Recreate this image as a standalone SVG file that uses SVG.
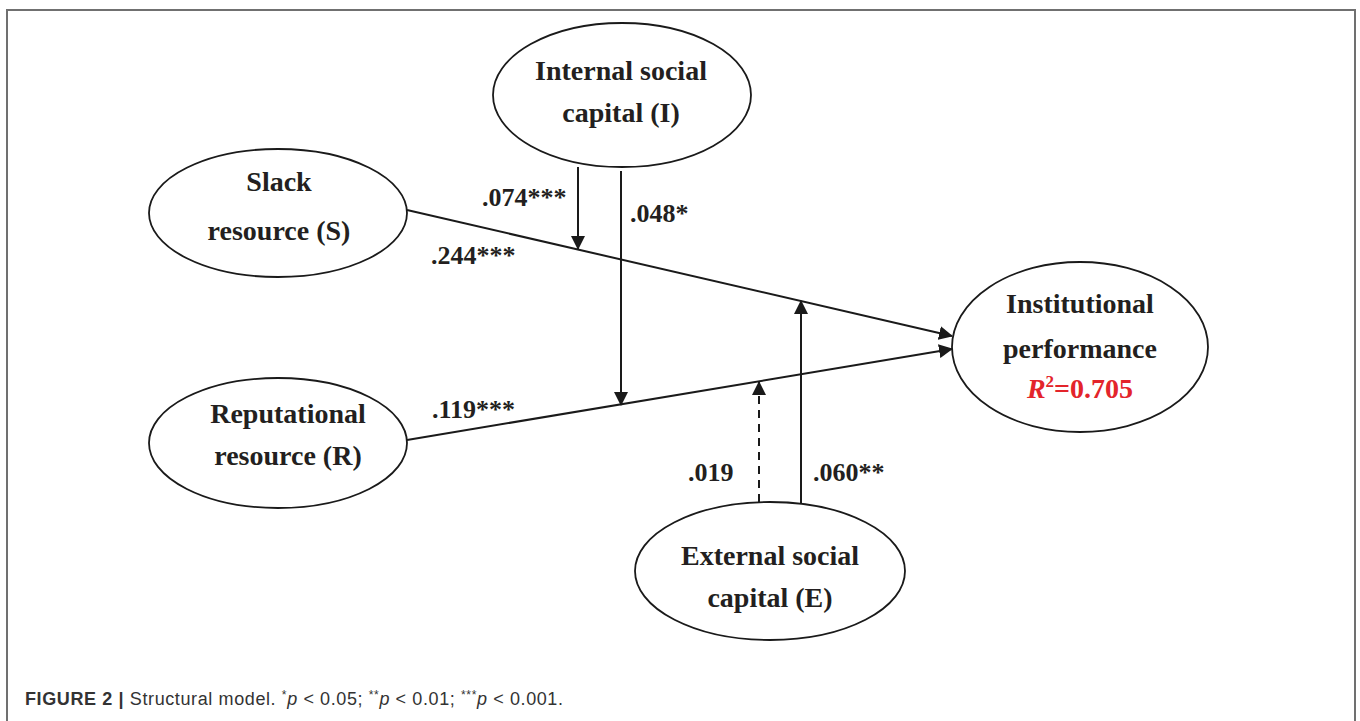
<svg xmlns="http://www.w3.org/2000/svg" width="1360" height="721" viewBox="0 0 1360 721">
<defs>
<style>
.node{fill:#fff;stroke:#1a1a1a;stroke-width:1.8}
.nt{font-family:"Liberation Serif","Times New Roman",serif;font-weight:bold;font-size:28px;fill:#231f20;text-anchor:middle}
.lbl{font-family:"Liberation Serif","Times New Roman",serif;font-weight:bold;font-size:26px;fill:#231f20}
.edge{stroke:#1a1a1a;stroke-width:2;fill:none}
.dash{stroke-dasharray:8,6}
.cap{font-family:"Liberation Sans",Arial,sans-serif;font-size:18px;fill:#333}
</style>
<marker id="ah" markerWidth="14" markerHeight="14" viewBox="0 0 14 14" refX="13" refY="7" orient="auto" markerUnits="userSpaceOnUse">
<path d="M0,0 L14,7 L0,14 Z" fill="#1a1a1a"/>
</marker>
</defs>
<rect width="1360" height="721" fill="#fff"/>
<path d="M7,721 V10 H1355 V721" fill="none" stroke="#707070" stroke-width="2"/>

<g id="connectors">
<line class="edge" x1="407" y1="210" x2="952" y2="336" marker-end="url(#ah)"/>
<line class="edge" x1="407" y1="440" x2="952" y2="349" marker-end="url(#ah)"/>
<line class="edge" x1="578" y1="167" x2="578" y2="249" marker-end="url(#ah)"/>
<line class="edge" x1="621" y1="171" x2="621" y2="405" marker-end="url(#ah)"/>
<line class="edge dash" x1="759" y1="502" x2="759" y2="382" marker-end="url(#ah)"/>
<line class="edge" x1="801" y1="505" x2="801" y2="301" marker-end="url(#ah)"/>
</g>

<g id="labels">
<text class="lbl" x="482" y="206">.074***</text>
<text class="lbl" x="630" y="222">.048*</text>
<text class="lbl" x="431" y="264">.244***</text>
<text class="lbl" x="432" y="418">.119***</text>
<text class="lbl" x="688" y="481">.019</text>
<text class="lbl" x="813" y="481">.060**</text>
</g>

<g id="node-S">
<ellipse class="node" cx="278" cy="213" rx="129" ry="64"/>
<text class="nt" x="279" y="191">Slack</text>
<text class="nt" x="279" y="240">resource (S)</text>
</g>

<g id="node-R">
<ellipse class="node" cx="278" cy="443" rx="129" ry="65"/>
<text class="nt" x="288" y="423">Reputational</text>
<text class="nt" x="288" y="465">resource (R)</text>
</g>

<g id="node-I">
<ellipse class="node" cx="622" cy="95" rx="129" ry="72"/>
<text class="nt" x="621" y="80">Internal social</text>
<text class="nt" x="621" y="122">capital (I)</text>
</g>

<g id="node-E">
<ellipse class="node" cx="770" cy="571" rx="135" ry="69"/>
<text class="nt" x="770" y="565">External social</text>
<text class="nt" x="770" y="607">capital (E)</text>
</g>

<g id="node-P">
<ellipse class="node" cx="1080" cy="347" rx="128" ry="85"/>
<text class="nt" x="1080" y="313">Institutional</text>
<text class="nt" x="1080" y="358">performance</text>
<text class="nt" x="1080" y="398" style="fill:#e3242b"><tspan font-style="italic">R</tspan><tspan font-size="17" dy="-11">2</tspan><tspan dy="11">=0.705</tspan></text>
</g>

<text class="cap" x="25" y="705" textLength="538" lengthAdjust="spacing"><tspan font-weight="bold">FIGURE 2 |</tspan> Structural model. <tspan font-size="12" dy="-6">*</tspan><tspan dy="6" font-style="italic">p</tspan> &lt; 0.05; <tspan font-size="12" dy="-6">**</tspan><tspan dy="6" font-style="italic">p</tspan> &lt; 0.01; <tspan font-size="12" dy="-6">***</tspan><tspan dy="6" font-style="italic">p</tspan> &lt; 0.001.</text>
</svg>
